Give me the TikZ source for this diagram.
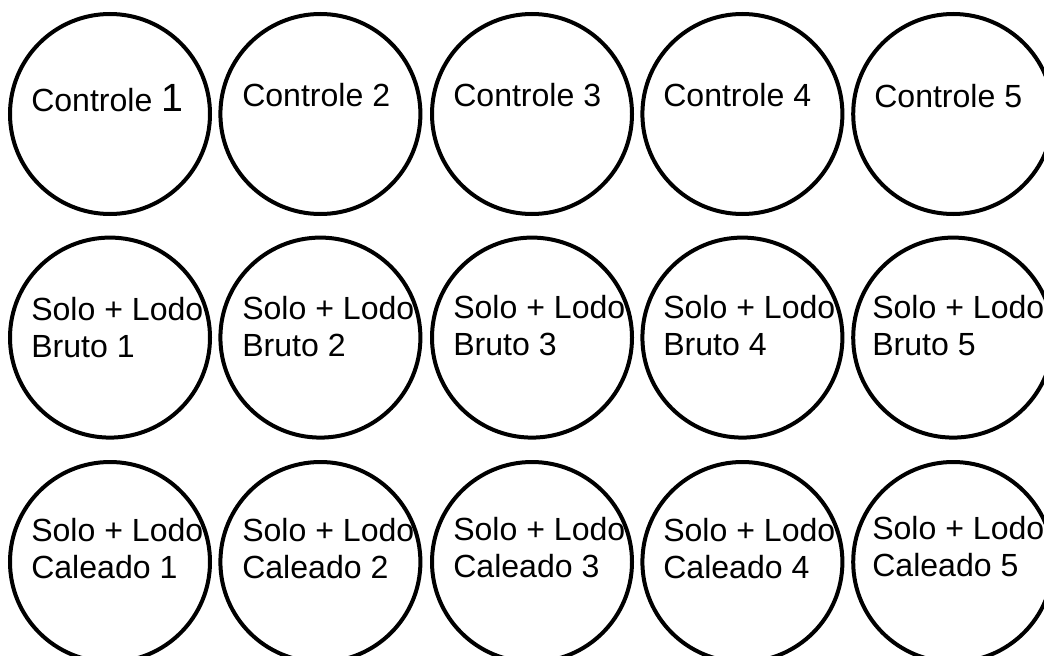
\documentclass[tikz,border=0pt]{standalone}
\usepackage{fontspec}
\setmainfont{Liberation Sans}

\tikzset{
  prato/.style={draw,circle,line width=0.1cm,minimum size=5cm,inner sep=0pt},
  rotulo/.style={anchor=base west,align=left,inner sep=0pt,font=\fontsize{22.8}{26.3}\selectfont}
}

\begin{document}
\begin{tikzpicture}
\path[use as bounding box,clip] (0,0) rectangle (26.1,-16.4);
% linha 1: controles
\node[prato] (ctrl1) at (2.75,-2.85) {};
\node[prato] (ctrl2) at (8.01,-2.85) {};
\node[prato] (ctrl3) at (13.3,-2.85) {};
\node[prato] (ctrl4) at (18.56,-2.85) {};
\node[prato] (ctrl5) at (23.83,-2.85) {};
\node[rotulo] (tctrl1) at (0.775,-2.8) {Controle {\fontsize{28}{30}\selectfont 1}};
\node[rotulo] (tctrl2) at (6.05,-2.675) {Controle 2};
\node[rotulo] (tctrl3) at (11.325,-2.675) {Controle 3};
\node[rotulo] (tctrl4) at (16.575,-2.675) {Controle 4};
\node[rotulo] (tctrl5) at (21.85,-2.7) {Controle 5};
% linha 2: lodo bruto (base = ultima linha)
\node[prato] (bruto1) at (2.75,-8.44) {};
\node[prato] (bruto2) at (8.01,-8.44) {};
\node[prato] (bruto3) at (13.3,-8.44) {};
\node[prato] (bruto4) at (18.56,-8.44) {};
\node[prato] (bruto5) at (23.83,-8.44) {};
\node[rotulo] (tbruto1) at (0.775,-8.925) {Solo + Lodo\\Bruto 1};
\node[rotulo] (tbruto2) at (6.05,-8.9) {Solo + Lodo\\Bruto 2};
\node[rotulo] (tbruto3) at (11.325,-8.875) {Solo + Lodo\\Bruto 3};
\node[rotulo] (tbruto4) at (16.575,-8.875) {Solo + Lodo\\Bruto 4};
\node[rotulo] (tbruto5) at (21.8,-8.875) {Solo + Lodo\\Bruto 5};
% linha 3: lodo caleado
\node[prato] (cal1) at (2.75,-14.05) {};
\node[prato] (cal2) at (8.01,-14.05) {};
\node[prato] (cal3) at (13.3,-14.05) {};
\node[prato] (cal4) at (18.56,-14.05) {};
\node[prato] (cal5) at (23.83,-14.05) {};
\node[rotulo] (tcal1) at (0.775,-14.45) {Solo + Lodo\\Caleado 1};
\node[rotulo] (tcal2) at (6.05,-14.45) {Solo + Lodo\\Caleado 2};
\node[rotulo] (tcal3) at (11.325,-14.425) {Solo + Lodo\\Caleado 3};
\node[rotulo] (tcal4) at (16.575,-14.45) {Solo + Lodo\\Caleado 4};
\node[rotulo] (tcal5) at (21.8,-14.4) {Solo + Lodo\\Caleado 5};
\end{tikzpicture}
\end{document}
